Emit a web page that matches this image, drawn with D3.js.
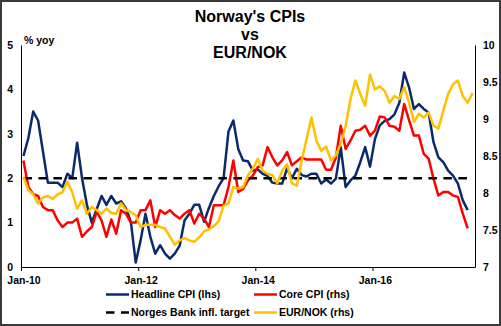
<!DOCTYPE html>
<html><head><meta charset="utf-8">
<script src="https://cdn.jsdelivr.net/npm/d3@7"></script>
<style>
body{margin:0;background:#fff}
svg{display:block}
text{font-family:"Liberation Sans",Arial,sans-serif;font-weight:bold;fill:#000}
</style>
</head><body>
<svg id="c" width="501" height="326"></svg>
<script>
// ---- data ----
const titleLines = ["Norway's CPIs", "vs", "EUR/NOK"];
const monthCount = 93; // Jan-2010 .. Sep-2017 categories
const tickMonthIdx = [0, 24, 48, 72];
const tickLabels = ["Jan-10", "Jan-12", "Jan-14", "Jan-16"];
const leftTicks = [0, 1, 2, 3, 4, 5];
const rightTicks = [7, 7.5, 8, 8.5, 9, 9.5, 10];

const headlineCPI = [
  2.5, 2.9, 3.5, 3.3, 2.6, 1.9, 1.9, 1.9, 1.8, 2.1, 2.0, 2.8,
  2.0, 1.4, 1.0, 1.3, 1.6, 1.4, 1.6, 1.43, 1.48, 1.32, 1.02, 0.1,
  0.6, 1.2, 0.68, 0.3, 0.49, 0.3, 0.19, 0.3, 0.48, 1.05, 1.2, 1.4,
  1.4, 1.02, 1.33, 1.6, 1.82, 2.0, 3.05, 3.3, 2.66, 2.4, 2.38, 2.17,
  2.2, 2.1, 2.05, 1.9, 1.88, 1.88, 2.22, 2.0, 2.21, 2.07, 2.04, 2.1,
  2.1, 1.88, 1.97, 1.88, 1.99, 2.7, 1.8, 1.95, 2.06, 2.36, 2.7, 2.26,
  2.88, 3.19, 3.29, 3.33, 3.44, 3.7, 4.38, 4.04, 3.56, 3.67, 3.56, 3.48,
  2.81, 2.47, 2.36, 2.17, 2.06, 1.88, 1.5, 1.28
];
const coreCPI = [
  2.4, 1.8, 1.64, 1.6, 1.35, 1.28, 1.28, 1.05, 0.9, 1.0, 1.0, 1.09,
  0.68, 0.8, 0.9, 1.24, 1.05, 0.68, 1.07, 0.75, 1.28, 1.2, 1.0, 1.0,
  1.28, 1.28, 1.5, 0.9, 1.28, 1.2, 1.28, 1.17, 1.09, 1.2, 1.28, 0.98,
  1.2, 1.09, 0.9, 1.39, 1.39, 1.39, 1.8, 2.4, 1.69, 1.76, 1.95, 2.06,
  2.25, 2.29, 2.7, 2.47, 2.29, 2.4, 2.59, 2.29, 2.38, 2.47, 2.42, 2.42,
  2.42, 2.42, 2.19, 2.19, 2.46, 3.18, 2.66, 2.85, 3.07, 3.09, 3.18, 2.96,
  3.07, 3.39, 3.37, 3.18, 3.16, 3.07, 3.67, 3.3, 2.96, 2.96, 2.55, 2.44,
  1.99, 1.61, 1.69, 1.69, 1.61, 1.58, 1.2, 0.87
];
const eurNok = [
  8.22, 8.04, 7.98, 7.86, 7.94, 7.96, 7.92, 7.98, 8.01, 8.15, 8.01, 7.79,
  7.9, 7.72, 7.81, 7.77, 7.72, 7.79, 7.73, 7.72, 7.86, 7.77, 7.74, 7.7,
  7.54, 7.57, 7.57, 7.57, 7.54, 7.52, 7.41, 7.3, 7.36, 7.39, 7.36, 7.34,
  7.4, 7.48, 7.51, 7.55, 7.62, 7.83, 7.86, 8.08, 8.06, 8.08, 8.24, 8.33,
  8.46, 8.3, 8.26, 8.24, 8.13, 8.3, 8.39, 8.13, 8.1, 8.44, 8.73, 9.02,
  8.71, 8.57, 8.63, 8.44, 8.51, 8.67, 8.9, 9.27, 9.52, 9.34, 9.18, 9.6,
  9.4, 9.44, 9.38, 9.22, 9.31, 9.27, 9.43, 9.22, 8.96, 9.07, 9.02, 9.09,
  8.91, 8.87, 9.11, 9.34, 9.47, 9.52, 9.31, 9.22, 9.35
];
const inflTarget = 2;

const legendItems = [
  {label: "Headline CPI (lhs)", color: "#0B2A6B", dash: null, col: 0, row: 0},
  {label: "Core CPI (rhs)", color: "#FF0000", dash: null, col: 1, row: 0},
  {label: "Norges Bank infl. target", color: "#000000", dash: "8.5,6.5", col: 0, row: 1},
  {label: "EUR/NOK (rhs)", color: "#FFC000", dash: null, col: 1, row: 1}
];

// ---- drawing ----
const svg = d3.select("#c");
const W = 501, H = 326;
const plot = {left: 21, right: 475, top: 45, bottom: 267};

svg.append("rect").attr("x", 1).attr("y", 1).attr("width", W - 2).attr("height", H - 2)
  .attr("fill", "#fff").attr("stroke", "#3a3a3a").attr("stroke-width", 2);

const x = d3.scaleLinear().domain([0, monthCount]).range([plot.left, plot.right]);
const yL = d3.scaleLinear().domain([0, 5]).range([plot.bottom, plot.top]);
const yR = d3.scaleLinear().domain([7, 10]).range([plot.bottom, plot.top]);
const cx = i => x(i + 0.5);

// title
svg.append("g").selectAll("text").data(titleLines).join("text")
  .attr("x", 250).attr("y", (d, i) => [21.5, 39.5, 58][i])
  .attr("text-anchor", "middle").style("font-size", "16px").text(d => d);

// axes
const fs = "10.5px";
const gL = svg.append("g").attr("transform", `translate(${plot.left},0)`)
  .call(d3.axisLeft(yL).tickValues(leftTicks).tickSizeInner(0).tickSizeOuter(0).tickPadding(8).tickFormat(d3.format("d")));
const gR = svg.append("g").attr("transform", `translate(${plot.right},0)`)
  .call(d3.axisRight(yR).tickValues(rightTicks).tickSizeInner(0).tickSizeOuter(0).tickPadding(8).tickFormat(d => String(d)));
const gB = svg.append("g").attr("transform", `translate(0,${plot.bottom})`)
  .call(d3.axisBottom(x).tickValues(tickMonthIdx).tickSizeInner(4).tickSizeOuter(0).tickFormat(""));
const gBL = svg.append("g").attr("transform", `translate(0,${plot.bottom})`)
  .call(d3.axisBottom(x).tickValues(tickMonthIdx.map(d => d + 0.5)).tickSize(0).tickPadding(10)
    .tickFormat((d, k) => tickLabels[k]));
gBL.select(".domain").remove();
[gL, gR, gB, gBL].forEach(g => {
  g.selectAll("text").style("font-size", fs).style("font-family", '"Liberation Sans",Arial,sans-serif').style("font-weight", "bold").attr("fill", "#000");
  g.selectAll(".domain").attr("stroke", "#000").attr("stroke-width", 1);
  g.selectAll(".tick line").attr("stroke", "#000");
});

svg.append("text").attr("x", 24).attr("y", 44).style("font-size", fs).text("% yoy");

// lines
const lineL = d3.line().x((d, i) => cx(i)).y(d => yL(d));
const lineR = d3.line().x((d, i) => cx(i)).y(d => yR(d));

svg.append("path").datum(headlineCPI).attr("d", lineL)
  .attr("fill", "none").attr("stroke", legendItems[0].color).attr("stroke-width", 2.5).attr("stroke-linejoin", "round");
svg.append("path").datum(coreCPI).attr("d", lineL)
  .attr("fill", "none").attr("stroke", legendItems[1].color).attr("stroke-width", 2.5).attr("stroke-linejoin", "round");
svg.append("line")
  .attr("x1", cx(0)).attr("x2", cx(monthCount - 1))
  .attr("y1", yL(inflTarget)).attr("y2", yL(inflTarget))
  .attr("stroke", "#000").attr("stroke-width", 2.5).attr("stroke-dasharray", "8.5,6.5");
svg.append("path").datum(eurNok).attr("d", lineR)
  .attr("fill", "none").attr("stroke", legendItems[3].color).attr("stroke-width", 2.5).attr("stroke-linejoin", "round");

// legend
const colX = [106, 254], rowY = [294.5, 312.5];
const lg = svg.append("g").selectAll("g").data(legendItems).join("g")
  .attr("transform", d => `translate(${colX[d.col]},${rowY[d.row]})`);
lg.append("line").attr("x1", 0).attr("x2", 23).attr("y1", 0).attr("y2", 0)
  .attr("stroke", d => d.color).attr("stroke-width", 2.5)
  .attr("stroke-dasharray", d => d.dash);
lg.append("text").attr("x", 25).attr("y", 3.8).style("font-size", fs).text(d => d.label);
</script>
</body></html>
